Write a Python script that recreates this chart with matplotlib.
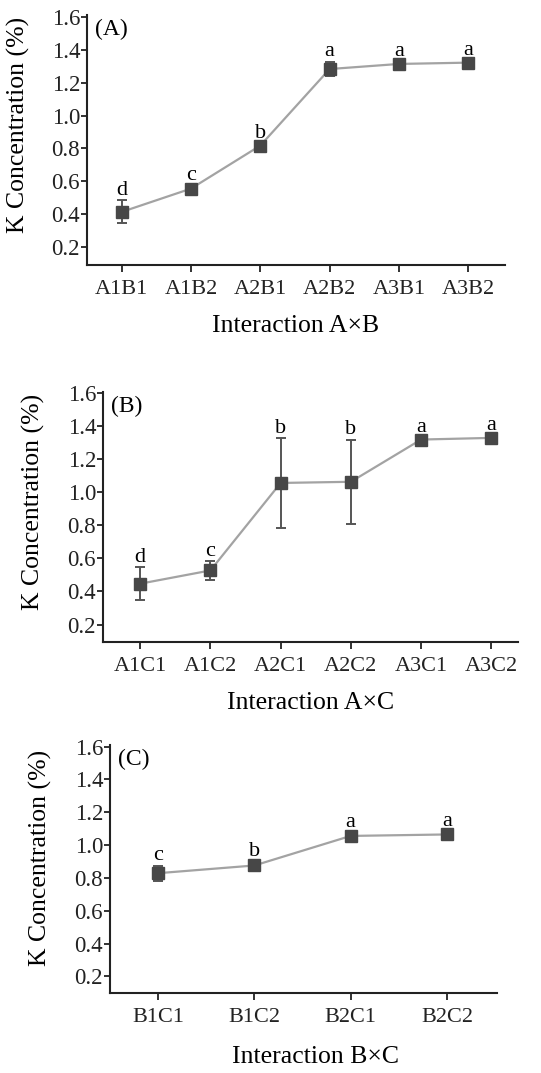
import matplotlib
matplotlib.use("Agg")
import matplotlib.pyplot as plt

plt.rcParams['font.family'] = ['Liberation Serif', 'DejaVu Serif']

# Panel A: Interaction A x B
cats_a = ["A1B1", "A1B2", "A2B1", "A2B2", "A3B1", "A3B2"]
vals_a = [0.413, 0.555, 0.817, 1.283, 1.314, 1.322]
errs_a = [0.07, 0.02, 0.015, 0.045, 0.015, 0.01]
lets_a = ["d", "c", "b", "a", "a", "a"]

# Panel B: Interaction A x C
cats_b = ["A1C1", "A1C2", "A2C1", "A2C2", "A3C1", "A3C2"]
vals_b = [0.447, 0.527, 1.055, 1.062, 1.317, 1.327]
errs_b = [0.10, 0.055, 0.27, 0.255, 0.015, 0.012]
lets_b = ["d", "c", "b", "b", "a", "a"]

# Panel C: Interaction B x C
cats_c = ["B1C1", "B1C2", "B2C1", "B2C2"]
vals_c = [0.829, 0.876, 1.056, 1.065]
errs_c = [0.045, 0.025, 0.02, 0.02]
lets_c = ["c", "b", "a", "a"]

yticks = [0.2, 0.4, 0.6, 0.8, 1.0, 1.2, 1.4, 1.6]

W, H = 541, 1073
fig = plt.figure(figsize=(W / 100, H / 100), dpi=100)


def px_axes(l, t, r, b):
    return fig.add_axes([l / W, 1 - b / H, (r - l) / W, (b - t) / H])


panels = [
    dict(box=(87, 15, 505, 265), cats=cats_a, vals=vals_a, errs=errs_a, lets=lets_a,
         tag="(A)", xlabel="Interaction A×B", xlim=(-0.5, 5.53), ylim=(0.09, 1.612),
         ylc=(-0.136, 0.56), xlc=(0.5, -0.2)),
    dict(box=(103, 392, 518, 642), cats=cats_b, vals=vals_b, errs=errs_b, lets=lets_b,
         tag="(B)", xlabel="Interaction A×C", xlim=(-0.53, 5.38), ylim=(0.095, 1.604),
         ylc=(-0.14, 0.56), xlc=(0.5, -0.2)),
    dict(box=(110, 745, 497, 993), cats=cats_c, vals=vals_c, errs=errs_c, lets=lets_c,
         tag="(C)", xlabel="Interaction B×C", xlim=(-0.5, 3.52), ylim=(0.099, 1.61),
         ylc=(-0.15, 0.545), xlc=(0.53, -0.215)),
]

for p in panels:
    ax = px_axes(*p["box"])
    x = list(range(len(p["cats"])))
    ax.plot(x, p["vals"], color="#a3a3a3", lw=1.6, zorder=2)
    ax.errorbar(x, p["vals"], yerr=p["errs"], fmt="s", color="#474747",
                ecolor="#555555", elinewidth=1.4, capsize=3.5, capthick=1.4,
                markersize=8.5, zorder=3)
    for xi, v, e, lt in zip(x, p["vals"], p["errs"], p["lets"]):
        ax.annotate(lt, (xi, v + e), xytext=(0, 4), textcoords="offset points",
                    ha="center", va="baseline", fontsize=16)
    ax.set_xlim(*p["xlim"])
    ax.set_ylim(*p["ylim"])
    ax.set_xticks(x)
    ax.set_xticklabels(p["cats"])
    ax.set_yticks(yticks)
    ax.set_yticklabels([f"{t:.1f}" for t in yticks])
    for s in ["top", "right"]:
        ax.spines[s].set_visible(False)
    for s in ["left", "bottom"]:
        ax.spines[s].set_linewidth(1.5)
        ax.spines[s].set_color("#222222")
    ax.tick_params(axis="y", length=4, width=1.3, pad=1, labelsize=16.5, colors="#222222")
    ax.tick_params(axis="x", length=5, width=1.3, pad=6, labelsize=16, colors="#222222")
    ax.set_ylabel("K Concentration (%)", fontsize=18.5)
    ax.set_xlabel(p["xlabel"], fontsize=18.5)
    ax.yaxis.set_label_coords(*p["ylc"])
    ax.xaxis.set_label_coords(*p["xlc"])
    ax.text(0.02, 0.985, p["tag"], transform=ax.transAxes, ha="left", va="top", fontsize=17)

fig.savefig("out.png", dpi=100)
